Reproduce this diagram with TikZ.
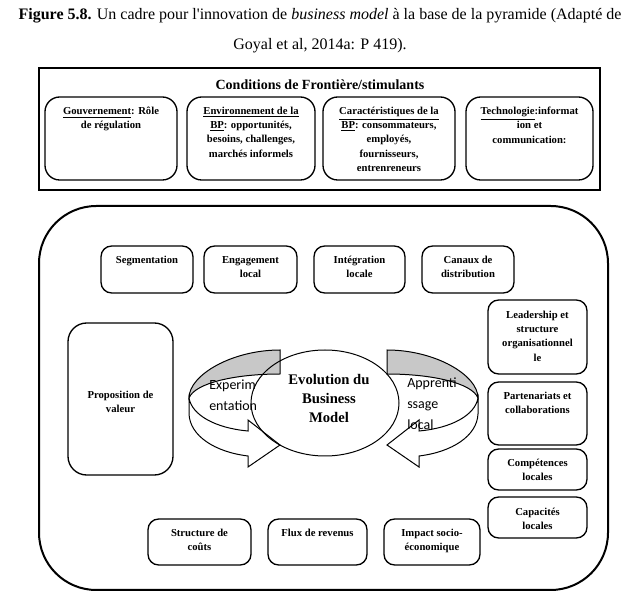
\documentclass[tikz,border=0pt]{standalone}
\usepackage{fontspec}
\setmainfont{Liberation Serif}
\newfontfamily\calibri{Carlito}
\usetikzlibrary{arrows}

\begin{document}
\begin{tikzpicture}[x=0.75pt,y=0.75pt,yscale=-1,xscale=1,
  roundbox/.style={line width=1, rounded corners=8pt},
  boxlabel/.style={anchor=north, inner sep=0.75pt, align=center, font=\fontsize{8}{10.6}\selectfont\bfseries},
  looplabel/.style={anchor=north west, inner sep=0.75pt, align=left, font=\calibri\fontsize{10.5}{15.4}\selectfont},
  backface/.style={line width=0.75, fill={rgb, 255:red, 200; green, 200; blue, 200 }, fill opacity=1},
  frontface/.style={line width=0.75, fill=white}]
\useasboundingbox (0,0) rectangle (640,602);

% Text Node
\draw (320,16) node [inner sep=0.75pt] [font=\fontsize{12}{14}\selectfont] (title1) {{\bfseries Figure 5.8.} Un cadre pour l\textquotesingle innovation de \emph{business model} à la base de la pyramide (Adapté de};
% Text Node
\draw (320,46) node [inner sep=0.75pt] [font=\fontsize{12}{14}\selectfont] (title2) {Goyal et al, 2014a: P 419).};

%Shape: Rectangle
\draw [line width=1.5] (39,68) rectangle (600,190);
% Text Node
\draw (320,85) node [inner sep=0.75pt] [font=\fontsize{10.5}{12}\selectfont\bfseries] (cond) {Conditions de Frontière/stimulants};

%Shape: Rounded Rectangles (conditions)
\draw [roundbox, rounded corners=11pt] (45,97) rectangle (177,180);
\draw [roundbox, rounded corners=11pt] (187,97) rectangle (315,180);
\draw [roundbox, rounded corners=11pt] (323,97) rectangle (455,180);
\draw [roundbox, rounded corners=11pt] (466,97) rectangle (593,180);
% Text Node
\draw (111,106) node [boxlabel] (gouv) {\underline{Gouvernement}: Rôle\\de régulation};
% Text Node
\draw (251,106) node [boxlabel] (envir) {\underline{Environnement de la}\\\underline{BP}: opportunités,\\besoins, challenges,\\marchés informels};
% Text Node
\draw (389,106) node [boxlabel] (carac) {\underline{Caractéristiques de la}\\\underline{BP}: consommateurs,\\employés,\\fournisseurs,\\entrenreneurs};
% Text Node
\draw (529.5,106) node [boxlabel] (techno) {\underline{Technologie}:informat\\ion et\\communication:};

%Shape: Rounded Rectangle (business model)
\draw [line width=1.5, rounded corners=43pt] (39,206) rectangle (608,590);

%Shape: Rounded Rectangles (top row)
\draw [roundbox] (101,246) rectangle (193,293);
\draw [roundbox] (204,246) rectangle (297,293);
\draw [roundbox] (314,246) rectangle (405,293);
\draw [roundbox] (422,246) rectangle (514,293);
% Text Node
\draw (147,255) node [boxlabel] (segm) {Segmentation};
% Text Node
\draw (250.5,255) node [boxlabel] (engag) {Engagement\\local};
% Text Node
\draw (359.5,255) node [boxlabel] (integ) {Intégration\\locale};
% Text Node
\draw (468,255) node [boxlabel] (canaux) {Canaux de\\distribution};

%Shape: Rounded Rectangles (right column)
\draw [roundbox] (488,300) rectangle (587,374);
\draw [roundbox] (488,382) rectangle (587,445);
\draw [roundbox] (488,449) rectangle (587,490);
\draw [roundbox] (488,497) rectangle (587,538);
% Text Node
\draw (537.5,310) node [boxlabel] (leader) {Leadership et\\structure\\organisationnel\\le};
% Text Node
\draw (537.5,391) node [boxlabel] (parten) {Partenariats et\\collaborations};
% Text Node
\draw (537.5,457.5) node [boxlabel] (compet) {Compétences\\locales};
% Text Node
\draw (537.5,506.5) node [boxlabel] (capac) {Capacités\\locales};

%Shape: Rounded Rectangle (value)
\draw [roundbox, rounded corners=14pt] (68,323) rectangle (173,475);
% Text Node
\draw (120.5,389.5) node [boxlabel] (propval) {Proposition de\\valeur};

%Shape: Rounded Rectangles (bottom row)
\draw [roundbox] (148,519) rectangle (251,565);
\draw [roundbox] (268,519) rectangle (367,565);
\draw [roundbox] (384,519) rectangle (480,565);
% Text Node
\draw (199.5,527.5) node [boxlabel] (couts) {Structure de\\coûts};
% Text Node
\draw (317.5,527.5) node [boxlabel] (revenus) {Flux de revenus};
% Text Node
\draw (432,527.5) node [boxlabel] (impact) {Impact socio-\\économique};

%Shape: Curved Arrow (left)
\draw [backface] (280,350) .. controls (232,350) and (189,375) .. (189,398) .. controls (195,383) and (235,374) .. (280,374) -- cycle ;
\draw [frontface] (189,398) -- (189,414) .. controls (190,436) and (215,452) .. (248,456) -- (248,467) -- (280,445) -- (248,420) -- (248,431) .. controls (215,428) and (192,415) .. (189,398) -- cycle ;

%Shape: Curved Arrow (right)
\draw [backface] (387,350) .. controls (435,350) and (478,375) .. (478,398) .. controls (472,383) and (432,374) .. (387,374) -- cycle ;
\draw [frontface] (478,398) -- (478,414) .. controls (477,436) and (452,452) .. (419,456) -- (419,467) -- (387,445) -- (419,420) -- (419,431) .. controls (452,428) and (475,415) .. (478,398) -- cycle ;

%Shape: Ellipse
\draw [line width=0.75] (325,403) ellipse (74 and 53) ;
% Text Node
\draw (329,373) node [anchor=north, inner sep=0.75pt, align=center] [font=\fontsize{11}{14.3}\selectfont\bfseries] (evol) {Evolution du\\Business\\Model};

% Text Node
\draw (208,379) node [looplabel] (experim) {Experim\\entation};
% Text Node
\draw (406,377) node [looplabel] (apprent) {Apprenti\\ssage\\local};

\end{tikzpicture}
\end{document}
